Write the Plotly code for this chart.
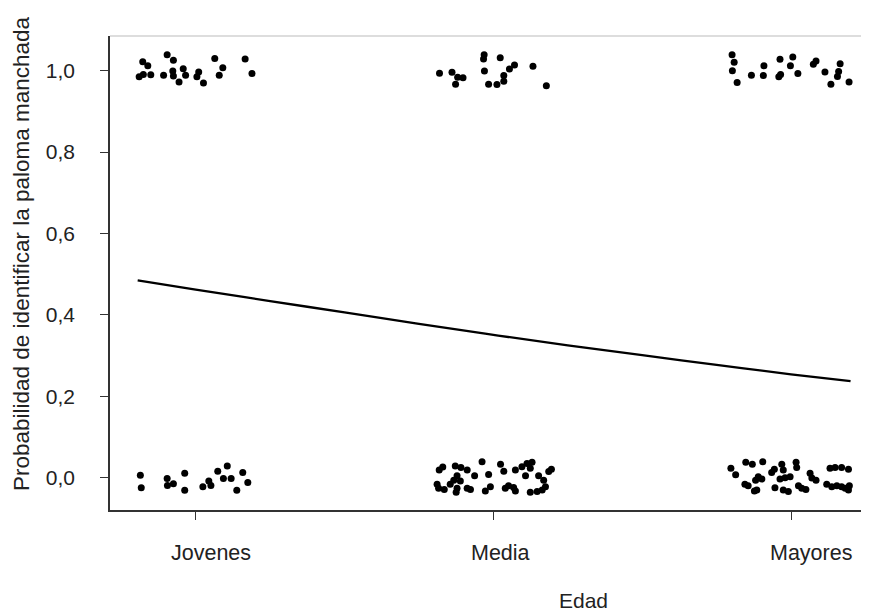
import plotly.graph_objects as go

# ---------------- data ----------------
categories = ["Jovenes", "Media", "Mayores"]
cat_pos = [1, 2, 3]
y_ticks = [0.0, 0.2, 0.4, 0.6, 0.8, 1.0]
y_ticklabels = ["0,0", "0,2", "0,4", "0,6", "0,8", "1,0"]

# jittered observations (x = group position + jitter, y = response + jitter)
jov_top_x = [0.822, 0.839, 0.810, 0.824, 0.849, 0.904, 0.925, 0.892, 0.923, 0.925, 0.944,
             0.958, 0.966, 1.010, 1.004, 1.026, 1.064, 1.091, 1.079, 1.166, 1.189]
jov_top_y = [1.022, 1.012, 0.985, 0.991, 0.990, 1.039, 1.026, 0.989, 0.999, 0.987, 0.972,
             1.005, 0.989, 0.997, 0.985, 0.970, 1.030, 1.007, 0.989, 1.029, 0.993]

med_top_x = [1.819, 1.861, 1.873, 1.880, 1.898, 1.969, 1.967, 1.970, 2.023, 1.984, 2.012,
             2.035, 2.035, 2.054, 2.071, 2.133, 2.178]
med_top_y = [0.994, 0.996, 0.967, 0.984, 0.983, 1.039, 1.029, 0.999, 1.032, 0.967, 0.966,
             0.988, 0.974, 1.004, 1.014, 1.011, 0.963]

may_top_x = [2.802, 2.809, 2.803, 2.819, 2.867, 2.909, 2.907, 2.963, 2.959, 2.965, 3.006,
             2.998, 3.023, 3.075, 3.084, 3.114, 3.134, 3.165, 3.160, 3.156, 3.195]
may_top_y = [1.039, 1.021, 1.000, 0.971, 0.989, 1.012, 0.988, 1.028, 0.985, 0.991, 1.034,
             1.012, 0.993, 1.016, 1.024, 0.997, 0.967, 1.017, 0.998, 0.986, 0.972]

jov_bot_x = [0.814, 0.817, 0.904, 0.905, 0.925, 0.963, 0.963, 1.024, 1.044, 1.051, 1.074,
             1.106, 1.093, 1.119, 1.158, 1.175, 1.138]
jov_bot_y = [0.006, -0.025, -0.002, -0.019, -0.015, 0.011, -0.031, -0.022, -0.008, -0.019, 0.016,
             0.029, -0.002, -0.002, 0.013, -0.012, -0.031]

med_bot_x = [1.818, 1.830, 1.872, 1.891, 1.912, 1.962, 1.937, 1.984, 1.878, 1.867, 1.855,
             1.889, 1.811, 1.816, 1.835, 1.878, 1.875, 1.912, 1.923, 1.990, 1.973,
             2.024, 2.035, 2.074, 2.096, 2.113, 2.130, 2.124, 2.108, 2.152, 2.169,
             2.186, 2.195, 2.040, 2.051, 2.068, 2.074, 2.124, 2.147, 2.164, 2.175]
med_bot_y = [0.019, 0.026, 0.029, 0.025, 0.019, 0.039, 0.005, 0.008, 0.005, -0.006, -0.016,
             -0.008, -0.016, -0.026, -0.029, -0.026, -0.036, -0.026, -0.029, -0.022, -0.033,
             0.033, 0.016, 0.019, 0.027, 0.035, 0.038, 0.023, 0.005, 0.005, -0.006,
             0.015, 0.021, -0.026, -0.020, -0.024, -0.033, -0.036, -0.034, -0.030, -0.022]

may_bot_x = [2.798, 2.814, 2.848, 2.870, 2.905, 2.890, 2.902, 2.881, 2.845, 2.856, 2.885,
             2.877, 2.935, 2.944, 2.969, 2.974, 2.963, 2.980, 2.946, 2.974, 2.991,
             2.997, 3.017, 3.019, 3.064, 3.070, 3.084, 3.025, 3.036, 3.050, 3.131,
             3.148, 3.170, 3.193, 3.120, 3.137, 3.154, 3.170, 3.182, 3.196, 3.193]
may_bot_y = [0.023, 0.007, 0.038, 0.033, 0.039, 0.002, -0.003, -0.006, -0.016, -0.020, -0.030,
             -0.033, 0.013, 0.021, 0.033, 0.019, -0.003, 0.000, -0.025, -0.030, -0.034,
             0.002, 0.038, 0.025, 0.011, -0.001, -0.006, -0.020, -0.026, -0.029, 0.023,
             0.025, 0.025, 0.021, -0.016, -0.022, -0.020, -0.022, -0.026, -0.020, -0.030]

# fitted curve, values
curve_x = [0.805, 1.0, 1.25, 1.5, 1.75, 2.0, 2.25, 2.5, 2.75, 3.0, 3.2]
curve_y = [0.485, 0.462, 0.434, 0.406, 0.378, 0.351, 0.325, 0.301, 0.277, 0.254, 0.237]

# ---------------- figure ----------------
# page body has an 8px margin, so the figure is placed at (8, 8)
OFF = 8
W, H = 869 - OFF, 613 - OFF
ML, MR, MT, MB = 110 - OFF, 0, 36 - OFF, 103
FONT = "Liberation Sans, Arial, sans-serif"
TXT = "#222222"

fig = go.Figure()

all_x = jov_top_x + med_top_x + may_top_x + jov_bot_x + med_bot_x + may_bot_x
all_y = jov_top_y + med_top_y + may_top_y + jov_bot_y + med_bot_y + may_bot_y
fig.add_trace(go.Scatter(x=all_x, y=all_y, mode="markers",
                         marker=dict(color="black", size=7, line=dict(width=0)),
                         hoverinfo="skip", showlegend=False))
fig.add_trace(go.Scatter(x=curve_x, y=curve_y, mode="lines",
                         line=dict(color="black", width=2.3, shape="spline"),
                         hoverinfo="skip", showlegend=False))

fig.update_layout(
    width=W, height=H,
    margin=dict(l=ML, r=MR, t=MT, b=MB, pad=0),
    paper_bgcolor="white", plot_bgcolor="white",
    font=dict(family=FONT, color=TXT),
    showlegend=False,
    xaxis=dict(range=[0.712, 3.262], showgrid=False, zeroline=False,
               showline=True, linecolor="#333333", linewidth=1.5,
               ticks="outside", ticklen=8, tickwidth=1.2, tickcolor="#333333",
               tickvals=cat_pos, ticktext=["", "", ""], fixedrange=True),
    yaxis=dict(range=[-0.0794, 1.0853], showgrid=False, zeroline=False,
               showline=True, linecolor="#333333", linewidth=1.5,
               ticks="outside", ticklen=8, tickwidth=1.2, tickcolor="#333333",
               tickvals=y_ticks, ticktext=y_ticklabels,
               tickfont=dict(size=21, color=TXT, family=FONT),
               ticklabelstandoff=21, fixedrange=True),
)

# top frame line
fig.add_shape(type="line", xref="paper", yref="paper", x0=0, x1=1, y0=1, y1=1,
              line=dict(color="#bbbbbb", width=1))

plot_w = W - ML - MR
plot_h = H - MT - MB
base_y = H - MB  # pixel row (in figure coords) of the x axis

# category labels (slightly offset to the right as in the reference)
label_shift = [15, 7, 20]
for c, p, s in zip(categories, cat_pos, label_shift):
    fig.add_annotation(x=p, y=(base_y - (553 - OFF)) / plot_h, xref="x", yref="paper",
                       text=c, showarrow=False, xanchor="center", yanchor="middle", xshift=s,
                       font=dict(size=21.5, color=TXT, family=FONT))

fig.add_annotation(x=(583 - 110) / plot_w, y=(base_y - (600 - OFF)) / plot_h,
                   xref="paper", yref="paper",
                   text="Edad", showarrow=False, xanchor="center", yanchor="middle",
                   font=dict(size=21, color=TXT, family=FONT))
fig.add_annotation(x=(21 - 110) / plot_w, y=(base_y - (254 - OFF)) / plot_h,
                   xref="paper", yref="paper",
                   text="Probabilidad de identificar la paloma manchada", textangle=-90,
                   showarrow=False, xanchor="center", yanchor="middle",
                   font=dict(size=22.5, color=TXT, family=FONT))

fig.write_html("out.html")
